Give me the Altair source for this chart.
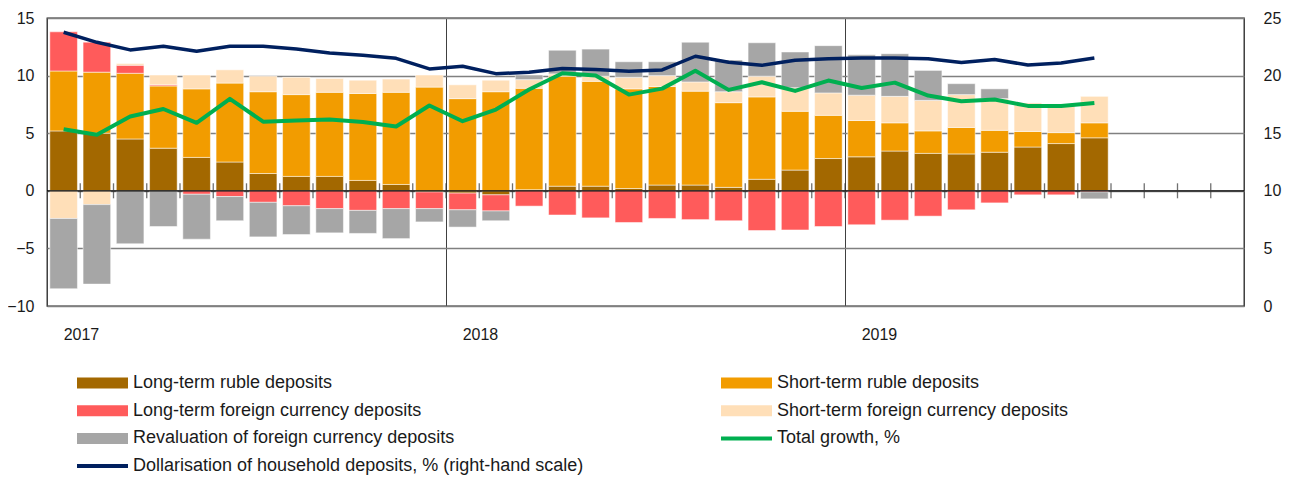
import altair as alt
import pandas as pd

FONT = "Liberation Sans, Arial, sans-serif"

years = ["2017", "2018", "2019"]
months = [f"{y}-{m:02d}" for y in years for m in range(1, 13)]
year_starts = ["2017-01", "2018-01", "2019-01"]

# contributions to deposit growth (pp), Jan 2017 .. Aug 2019
long_ruble = [5.2, 5.0, 4.5, 3.7, 2.9, 2.5, 1.5, 1.25, 1.25, 0.9, 0.55, -0.1,
              -0.2, -0.35, 0.1, 0.4, 0.4, 0.2, 0.5, 0.5, 0.3, 1.0, 1.8, 2.8,
              2.95, 3.45, 3.25, 3.2, 3.35, 3.8, 4.1, 4.6]
short_ruble = [5.2, 5.3, 5.7, 5.4, 5.95, 6.85, 7.1, 7.1, 7.3, 7.55, 8.0, 9.0,
               8.0, 8.6, 8.8, 9.55, 9.1, 8.65, 8.55, 8.15, 7.35, 7.15, 5.1, 3.75,
               3.15, 2.45, 1.95, 2.3, 1.9, 1.35, 0.95, 1.3]
long_fx = [3.4, 2.6, 0.7, 0.1, -0.3, -0.5, -1.0, -1.3, -1.55, -1.7, -1.55, -1.45,
           -1.45, -1.4, -1.33, -2.1, -2.35, -2.75, -2.4, -2.5, -2.6, -3.45, -3.4, -3.1,
           -2.95, -2.55, -2.2, -1.65, -1.05, -0.35, -0.35, -0.1]
short_fx = [-2.4, -1.2, 0.15, 0.85, 1.2, 1.15, 1.35, 1.5, 1.2, 1.15, 1.15, 1.05,
            1.2, 1.0, 0.75, 0.2, 0.45, 1.0, 0.95, 0.8, 0.95, 1.8, 2.05, 1.95,
            2.2, 2.3, 2.65, 2.85, 2.75, 2.5, 2.5, 2.3]
revaluation = [-6.1, -6.9, -4.6, -3.1, -3.9, -2.1, -3.0, -2.5, -2.1, -2.0, -2.6, -1.15,
               -1.5, -0.85, 0.4, 2.05, 2.35, 1.35, 1.2, 3.45, 2.75, 2.9, 3.1, 4.1,
               3.5, 3.7, 2.6, 0.95, 0.85, 0.0, 0.0, -0.6]
total_growth = [5.35, 4.86, 6.45, 7.1, 5.9, 7.98, 6.0, 6.1, 6.18, 5.98, 5.58, 7.4,
                6.04, 7.05, 8.79, 10.2, 10.0, 8.35, 8.87, 10.43, 8.76, 9.42, 8.67, 9.57,
                8.93, 9.39, 8.27, 7.77, 7.92, 7.37, 7.37, 7.63]
dollarisation = [23.76, 22.89, 22.23, 22.54, 22.11, 22.54, 22.54, 22.31, 21.97, 21.76, 21.5, 20.58,
                 20.81, 20.17, 20.29, 20.61, 20.52, 20.38, 20.49, 21.68, 21.16, 20.9, 21.33, 21.47,
                 21.53, 21.53, 21.47, 21.13, 21.39, 20.92, 21.1, 21.53]

bar_names = ["Long-term ruble deposits", "Short-term ruble deposits",
             "Long-term foreign currency deposits", "Short-term foreign currency deposits",
             "Revaluation of foreign currency deposits"]
green_name = "Total growth, %"
navy_name = "Dollarisation of household deposits, % (right-hand scale)"
all_names = bar_names + [green_name, navy_name]
colors = ["#A36800", "#F29C00", "#FF5B5B", "#FFDFB8", "#A6A6A6", "#00AF50", "#00205F"]

rows = []
for k, (name, vals) in enumerate(zip(bar_names, [long_ruble, short_ruble, long_fx, short_fx, revaluation])):
    for i, v in enumerate(vals):
        rows.append({"month": months[i], "series": name, "value": v, "k": k})
bars_df = pd.DataFrame(rows)
green_df = pd.DataFrame({"month": months[:len(total_growth)], "series": green_name, "value": total_growth})
navy_df = pd.DataFrame({"month": months[:len(dollarisation)], "series": navy_name, "value": dollarisation})
zero_df = pd.DataFrame({"zero": [0]})
tick_df = pd.DataFrame({"month": months[1:], "zero": [0] * (len(months) - 1)})

x_scale = alt.Scale(domain=months, paddingInner=0, paddingOuter=0)
x_axis = alt.Axis(values=year_starts, labelExpr="substring(datum.label, 0, 4)", bandPosition=0,
                  labelAlign="left", labelAngle=0, grid=True, gridColor="#404040", gridWidth=1,
                  ticks=False, domain=False, labelPadding=20, title=None)
x_enc = alt.X("month:O", scale=x_scale, axis=x_axis)

y_left = alt.Scale(domain=[-10, 15], nice=False, zero=False)
left_axis = alt.Axis(values=[-10, -5, 0, 5, 10, 15], grid=True, gridColor="#808080", gridWidth=1.3,
                     domain=False, ticks=False, labelPadding=13, title=None)

sym_expr = ("indexof(['" + green_name + "', '" + navy_name + "'], datum.value) >= 0 ? "
            "'M-1,-0.33H7.5V0.33H-1Z' : 'M-1,-0.92H7.5V0.92H-1Z'")
legend = alt.Legend(orient="none", legendX=27, legendY=356, columns=2, direction="horizontal",
                    columnPadding=134, rowPadding=9.7, symbolSize=144, symbolType={"expr": sym_expr},
                    symbolFillColor={"expr": "scale('color', datum.value)"}, symbolOpacity=1,
                    symbolStrokeWidth=0, labelOffset=41, labelFontSize=18, labelFont=FONT,
                    labelColor="#1a1a1a", labelLimit=800, title=None, padding=0)
color_enc = alt.Color("series:N", scale=alt.Scale(domain=all_names, range=colors), legend=legend)

bars = alt.Chart(bars_df).mark_bar(width=alt.RelativeBandSize(band=0.83), stroke="white",
                                   strokeWidth=0.5).encode(
    x=x_enc,
    y=alt.Y("value:Q", stack="zero", scale=y_left, axis=left_axis),
    color=color_enc,
    order=alt.Order("k:Q"),
)
green = alt.Chart(green_df).mark_line(strokeWidth=4, strokeJoin="round").encode(
    x=x_enc, y=alt.Y("value:Q", scale=y_left, axis=left_axis), color=color_enc)
zero_rule = alt.Chart(zero_df).mark_rule(color="black", strokeWidth=1.3).encode(
    y=alt.Y("zero:Q", scale=y_left, axis=left_axis))
month_ticks = alt.Chart(tick_df).mark_tick(orient="vertical", size=15, thickness=1.3, color="#333").encode(
    x=alt.X("month:O", scale=x_scale, axis=x_axis, bandPosition=0),
    y=alt.Y("zero:Q", scale=y_left, axis=left_axis))

left = alt.layer(bars, green, zero_rule, month_ticks)

navy = alt.Chart(navy_df).mark_line(strokeWidth=3.5, strokeJoin="round").encode(
    x=x_enc,
    y=alt.Y("value:Q", scale=alt.Scale(domain=[0, 25], nice=False, zero=False),
            axis=alt.Axis(orient="right", values=[0, 5, 10, 15, 20, 25], grid=False, domain=False,
                          ticks=False, labelPadding=19, title=None)),
    color=color_enc)

chart = alt.layer(left, navy).resolve_scale(y="independent").properties(
    width=1197, height=288,
    autosize=alt.AutoSizeParams(type="none"),
    padding={"left": 39, "top": 10, "right": 44, "bottom": 172},
).configure_view(stroke="#222", strokeWidth=1.3).configure_axis(
    labelFont=FONT, labelFontSize=16, labelColor="#1a1a1a"
)

chart.save("out.html", embed_options={"renderer": "svg", "actions": False})
